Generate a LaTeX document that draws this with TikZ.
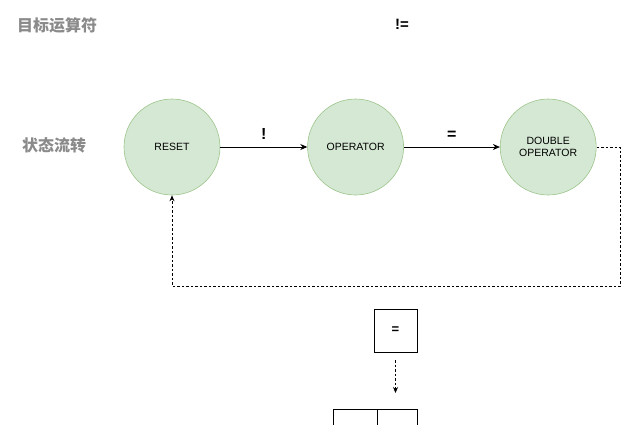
\documentclass[tikz,border=0pt]{standalone}
\usepackage{fontspec}
\setmainfont{Liberation Sans}
\newfontfamily\cjk{Noto Sans CJK SC}
\usepackage{tikz}
\usetikzlibrary{arrows.meta,positioning}
\definecolor{statefill}{HTML}{D5E8D4}
\definecolor{stateline}{HTML}{9CC48A}
\definecolor{titlegray}{HTML}{8A8A8A}
\begin{document}
\begin{tikzpicture}[
      x=1pt,y=1pt,
      state_node/.style={
         circle,
         draw=stateline,
         fill=statefill,
         line width=0.6pt,
         inner sep=0pt,
         minimum size=96pt,
         align=center,
         font=\fontsize{10.5}{11.5}\selectfont},
      cell_box/.style={
         rectangle,
         draw=black,
         line width=0.8pt,
         inner sep=0pt,
         outer sep=0pt,
         minimum height=43pt,
         font=\bfseries\fontsize{13}{13}\selectfont},
      title_text/.style={
         text=titlegray,
         font=\cjk\bfseries\fontsize{16}{16}\selectfont},
      arrow_black/.style={
        -{Stealth[length=7pt,width=6pt]},
        line width=0.8pt,
        },
      arrow_dashed/.style={
        -{Stealth[length=6pt,width=5pt]},
        line width=0.8pt,
        dash pattern=on 2.5pt off 2pt,
        }
]
      \useasboundingbox (0,0) rectangle (640,-424);
      % titles
      \node[title_text] (goal) at (57,-25) {目标运算符};
      \node[font=\bfseries\fontsize{15}{15}\selectfont] (target) at (402,-24) {!=};
      \node[title_text] (flow) at (54,-145) {状态流转};

      % states
      \node[state_node] (reset) at (172,-147) {RESET};
      \node[state_node,right=87pt of reset] (operator) {OPERATOR};
      \node[state_node,right=96pt of operator] (double) {DOUBLE\\OPERATOR};

      \foreach \i/\j/\txt in {% start node/end node/text
        reset/operator/!,
        operator/double/=}
      \draw [arrow_black] (\i) -- node[above=4pt,font=\bfseries\fontsize{16}{16}\selectfont] {\txt} (\j);

      % back to reset
      \coordinate (loop_corner) at (620,-286);
      \draw [arrow_dashed] (double.east) -| (loop_corner) -| (reset.south);

      % char cells
      \node[cell_box,minimum width=43pt] (eqbox) at (395.5,-330.5) {=};
      \node[cell_box,minimum width=40pt,below left=57pt and 0pt of eqbox.south east] (cell_r) {};
      \node[cell_box,minimum width=44pt,left=0pt of cell_r] (cell_l) {};
      \draw [arrow_dashed,shorten <=8pt,shorten >=16pt] (eqbox.south) -- (eqbox.south |- cell_r.north);
\end{tikzpicture}
\end{document}
